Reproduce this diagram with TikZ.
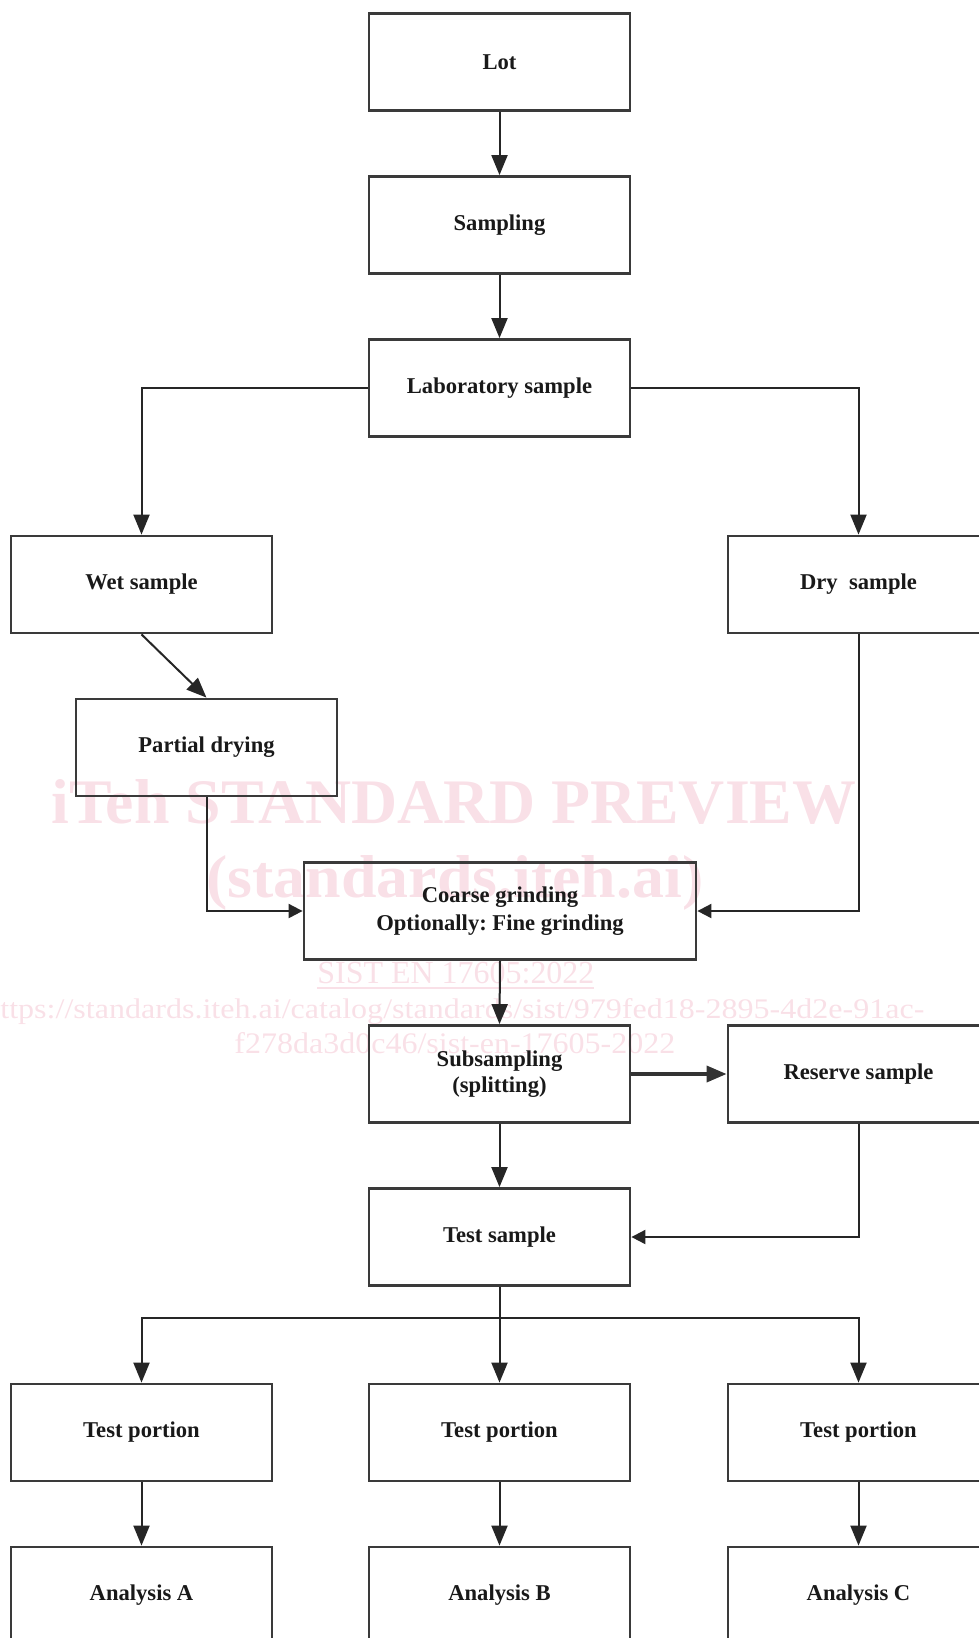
\documentclass[tikz,border=0pt]{standalone}
\usepackage{fontspec}
\setmainfont{Liberation Serif}
\usepackage{graphicx}
\usetikzlibrary{arrows.meta}
\definecolor{wm}{RGB}{249,224,231}
\definecolor{boxline}{RGB}{58,58,58}
\frenchspacing
\begin{document}
\begin{tikzpicture}[x=0.5pt,y=-0.5pt,
  box/.style={draw=boxline, line width=1.4pt, minimum width=130.5pt, minimum height=48.5pt,
    inner sep=2pt, align=center, font=\fontsize{11.3}{13}\selectfont\bfseries, text=black!90},
  conn/.style={draw=black!85, line width=1pt, -{Triangle[length=10pt,width=8pt]}},
  connh/.style={draw=black!85, line width=1pt, -{Triangle[length=7pt,width=7pt]}},
  connr/.style={draw=black!80, line width=1.8pt, -{Triangle[length=10pt,width=8pt]}},
  wmtext/.style={text=wm, inner sep=0pt, anchor=base west}]
\useasboundingbox (0,0) rectangle (979,1638);
\clip (0,0) rectangle (979,1638);
% watermark
\node[wmtext] (wm1) at (51,823) {\resizebox{402.5pt}{22pt}{\bfseries iTeh STANDARD PREVIEW}};
\node[wmtext] (wm2) at (206,897) {\resizebox{248.5pt}{21pt}{\bfseries (standards.iteh.ai)}};
\node[wmtext] (wm3) at (317,983) {\resizebox{138.5pt}{10.7pt}{\underline{SIST EN 17605:2022}}};
\node[wmtext] (wm4) at (0,1018) {\resizebox{462pt}{10pt}{ttps://standards.iteh.ai/catalog/standards/sist/979fed18-2895-4d2e-91ac-}};
\node[wmtext] (wm5) at (234,1053) {\resizebox{220.5pt}{10.5pt}{f278da3d0c46/sist-en-17605-2022}};
% boxes
\node[box] (lot) at (499.5,62) {Lot};
\node[box] (samp) at (499.5,225) {Sampling};
\node[box] (lab) at (499.5,388) {Laboratory sample};
\node[box] (wet) at (141.5,584.5) {Wet sample};
\node[box] (dry) at (858.5,584.5) {Dry\ \ sample};
\node[box] (part) at (206.5,747.5) {Partial drying};
\node[box, minimum width=196pt, font=\fontsize{11.3}{14}\selectfont\bfseries] (coarse) at (500,911) {Coarse grinding\\Optionally: Fine grinding};
\node[box] (sub) at (499.5,1074) {Subsampling\\(splitting)};
\node[box] (res) at (858.5,1074) {Reserve sample};
\node[box] (test) at (499.5,1237) {Test sample};
\node[box] (tp1) at (141.5,1432.5) {Test portion};
\node[box] (tp2) at (499.5,1432.5) {Test portion};
\node[box] (tp3) at (858.5,1432.5) {Test portion};
\node[box] (an1) at (141.5,1595.5) {Analysis A};
\node[box] (an2) at (499.5,1595.5) {Analysis B};
\node[box] (an3) at (858.5,1595.5) {Analysis C};
% connectors
\draw[conn] (lot) -- (samp);
\draw[conn] (samp) -- (lab);
\draw[conn] (lab.west) -| (wet.north);
\draw[conn] (lab.east) -| (dry.north);
\draw[conn] (wet.south) -- (part.north);
\draw[connh] (part.south) |- (coarse.west);
\draw[connh] (dry.south) |- (coarse.east);
\draw[conn] (coarse.south) -- (sub.north);
\draw[connr] (sub.east) -- (res.west);
\draw[conn] (sub) -- (test);
\draw[connh] (res.south) |- (test.east);
\coordinate (split) at (499.5,1318);
\draw[conn] (test) -- (tp2);
\draw[conn] (split) -| (tp1.north);
\draw[conn] (split) -| (tp3.north);
\draw[conn] (tp1) -- (an1);
\draw[conn] (tp2) -- (an2);
\draw[conn] (tp3) -- (an3);
\end{tikzpicture}
\end{document}
